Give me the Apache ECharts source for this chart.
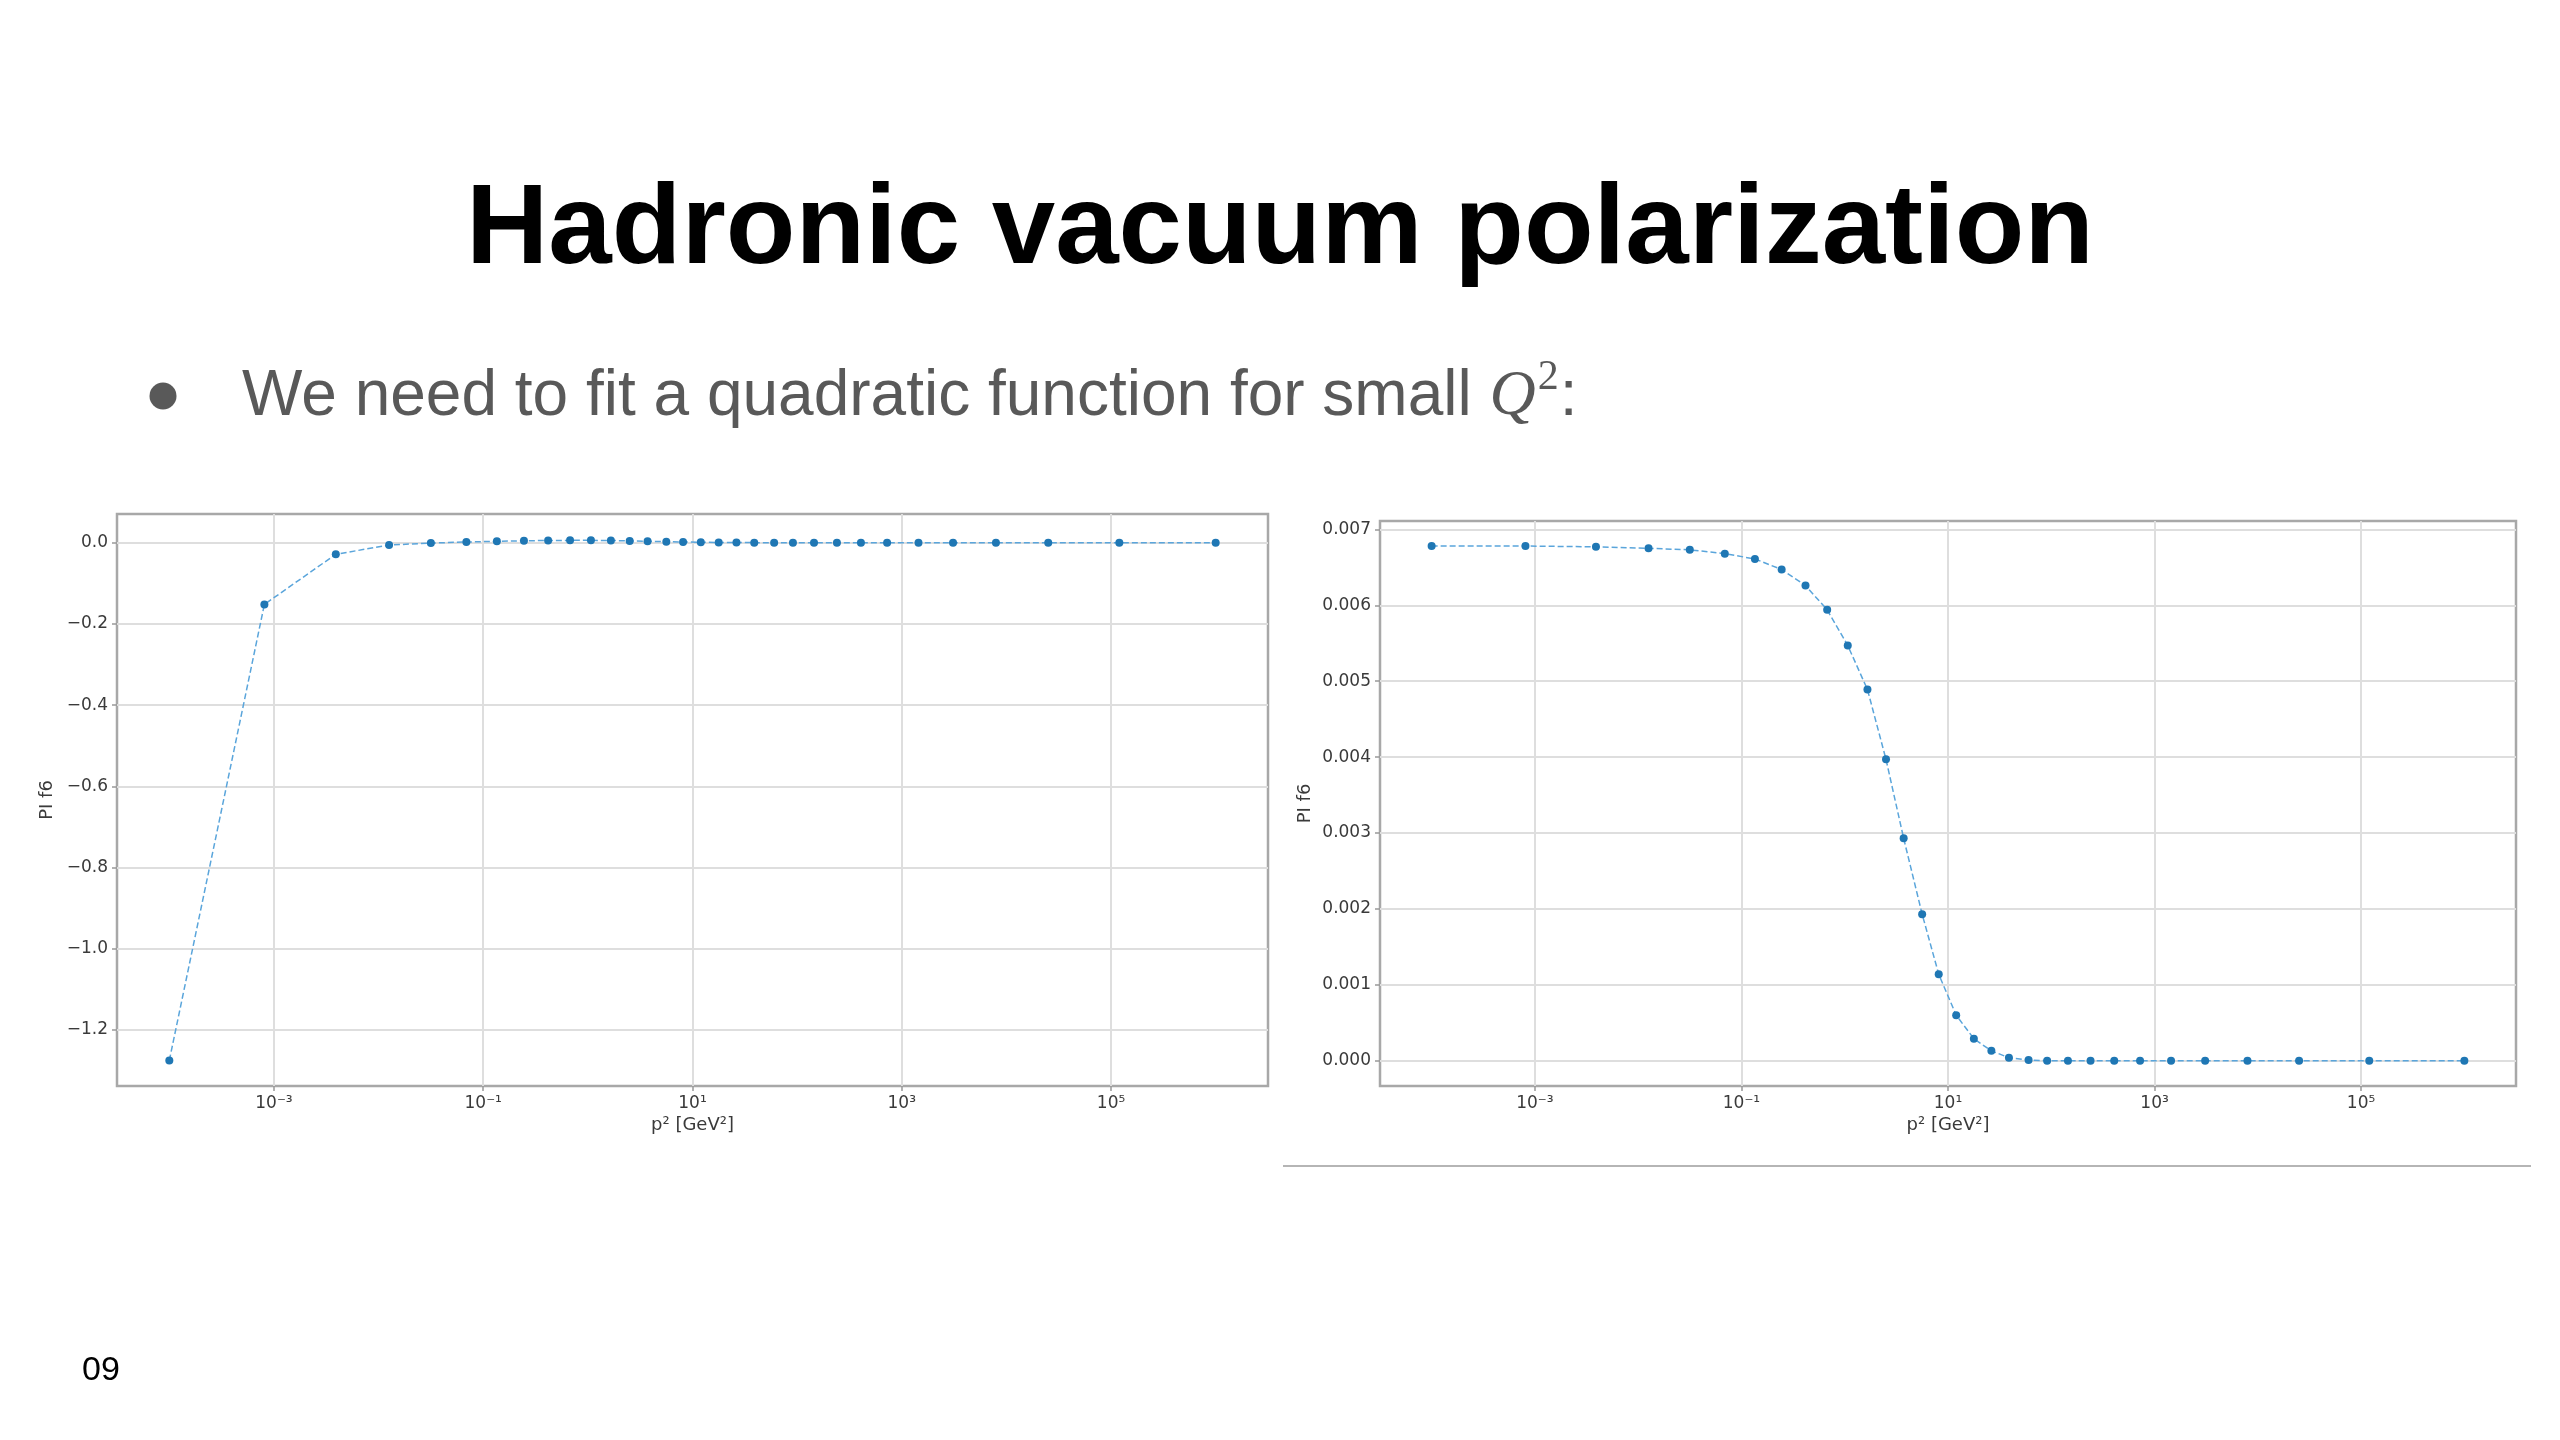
<!DOCTYPE html>
<html>
<head>
<meta charset="utf-8">
<script src="https://cdn.jsdelivr.net/npm/echarts@6.0.0/dist/echarts.min.js"></script>
<style>
html,body{margin:0;padding:0;background:#ffffff;}
#main{width:2560px;height:1440px;}
</style>
</head>
<body>
<div id="main"></div>
<script>
// ---- data ----
const p2Values = [1e-4, 8.1e-4, 3.9e-3, 0.0126, 0.0316, 0.069, 0.135, 0.245, 0.417, 0.676,
  1.07, 1.66, 2.51, 3.72, 5.62, 8.13, 12.0, 17.8, 26.3, 38.9,
  60.3, 91.2, 145, 240, 407, 724, 1445, 3090, 7940, 25100, 120000, 1e6];
const pif6Left = [-1.275, -0.152, -0.0285, -0.0058, -0.0008, 0.0017, 0.0034, 0.0048, 0.0055, 0.0058,
  0.0058, 0.0054, 0.0045, 0.0036, 0.0026, 0.0018, 0.0011, 0.0007, 0.0004, 0.0002,
  0.0001, 0, 0, 0, 0, 0, 0, 0, 0, 0, 0, 0];
const pif6Right = [0.00678, 0.00678, 0.00677, 0.00675, 0.00673, 0.00668, 0.00661, 0.00647, 0.00626, 0.00594,
  0.00547, 0.00489, 0.00397, 0.00293, 0.00193, 0.00114, 0.00060, 0.00029, 0.00013, 0.00004,
  0.00001, 0, 0, 0, 0, 0, 0, 0, 0, 0, 0, 0];
const xTickExponents = [-3, -1, 1, 3, 5];
const yTicksLeft = [0, -0.2, -0.4, -0.6, -0.8, -1.0, -1.2];
const yTicksRight = [0, 0.001, 0.002, 0.003, 0.004, 0.005, 0.006, 0.007];
const titleText = 'Hadronic vacuum polarization';
const bulletText = 'We need to fit a quadratic function for small ';
const pageNumber = '09';
const xAxisName = 'p² [GeV²]';
const yAxisName = 'PI f6';

// ---- helpers ----
const supMap = {'-':'⁻','0':'⁰','1':'¹','2':'²','3':'³','4':'⁴','5':'⁵','6':'⁶','7':'⁷','8':'⁸','9':'⁹'};
function logLabel(v){
  const e = Math.round(v);
  return '10' + String(e).split('').map(c => supMap[c]).join('');
}
function minusFmt(v, d){
  const s = v.toFixed(d);
  return (v < 0 ? '\u2212' + s.slice(1) : s.replace('-', ''));
}
const leftData = p2Values.map((p, i) => [Math.log10(p), pif6Left[i]]);
const rightData = p2Values.map((p, i) => [Math.log10(p), pif6Right[i]]);

const axisFont = 'DejaVu Sans';
const textCol = '#3a3a3a';
const gridLineCol = '#dedede';
const frameCol = '#a8a8a8';

function xAxisDef(gi){
  return {
    type: 'value', gridIndex: gi, min: -4.5, max: 6.5,
    name: xAxisName, nameLocation: 'middle', nameGap: 30,
    nameTextStyle: {fontFamily: axisFont, fontSize: 18, color: textCol},
    axisLine: {show: false, onZero: false},
    axisTick: {show: true, length: 5, customValues: xTickExponents, lineStyle: {color: '#999', width: 1.5}},
    axisLabel: {customValues: xTickExponents, formatter: logLabel, margin: 9,
      fontFamily: axisFont, fontSize: 17, color: textCol},
    splitLine: {show: true, lineStyle: {color: gridLineCol, width: 2}}
  };
}
function yAxisDef(gi, mn, mx, ticks, dec, gap){
  return {
    type: 'value', gridIndex: gi, min: mn, max: mx,
    name: yAxisName, nameLocation: 'middle', nameGap: gap, nameRotate: 90,
    nameTextStyle: {fontFamily: axisFont, fontSize: 18, color: textCol},
    axisLine: {show: false, onZero: false},
    axisTick: {show: true, length: 5, customValues: ticks, lineStyle: {color: '#999', width: 1.5}},
    axisLabel: {customValues: ticks, formatter: v => minusFmt(v, dec), margin: 9,
      fontFamily: axisFont, fontSize: 17, color: textCol},
    splitLine: {show: true, lineStyle: {color: gridLineCol, width: 2}}
  };
}
function seriesDef(idx, data){
  return {
    type: 'line', xAxisIndex: idx, yAxisIndex: idx, data: data,
    symbol: 'circle', symbolSize: 8, showSymbol: true,
    itemStyle: {color: '#1f77b4'},
    lineStyle: {color: '#5aa5db', width: 1.5, type: [6, 3]},
    z: 3
  };
}

const chart = echarts.init(document.getElementById('main'), null, {renderer: 'canvas'});
chart.setOption({
  animation: false,
  backgroundColor: '#ffffff',
  grid: [
    {left: 117, top: 514, width: 1151, height: 572, show: true, borderColor: frameCol, borderWidth: 2.5, backgroundColor: '#fff'},
    {left: 1380, top: 521, width: 1136, height: 565, show: true, borderColor: frameCol, borderWidth: 2.5, backgroundColor: '#fff'}
  ],
  xAxis: [xAxisDef(0), xAxisDef(1)],
  yAxis: [
    yAxisDef(0, -1.338, 0.0707, yTicksLeft, 1, 61),
    yAxisDef(1, -0.000333, 0.00711, yTicksRight, 3, 66)
  ],
  series: [seriesDef(0, leftData), seriesDef(1, rightData)],
  graphic: [
    {type: 'text', left: 'center', top: 175,
      style: {text: titleText, font: 'bold 114px "Liberation Sans", Arial, sans-serif', fill: '#000'}},
    {type: 'circle', shape: {cx: 163, cy: 396, r: 13.5}, style: {fill: '#595959'}},
    {type: 'text', x: 242, y: 357,
      style: {
        text: '{t|' + bulletText + '}{q|Q}{s|2}{t|:}',
        rich: {
          t: {font: '64px "Liberation Sans", Arial, sans-serif', fill: '#595959', lineHeight: 80, verticalAlign: 'middle'},
          q: {font: 'italic 64px "Liberation Serif", serif', fill: '#595959', lineHeight: 80, verticalAlign: 'middle'},
          s: {font: '42px "Liberation Serif", serif', fill: '#595959', lineHeight: 42, verticalAlign: 'top', padding: [0, 1, 0, 2]}
        }
      }},
    {type: 'text', x: 82, y: 1354,
      style: {text: pageNumber, font: '34px "Liberation Sans", Arial, sans-serif', fill: '#000'}},
    {type: 'line', shape: {x1: 1283, y1: 1166, x2: 2531, y2: 1166}, style: {stroke: '#b5b5b5', lineWidth: 2}}
  ]
});
</script>
</body>
</html>
